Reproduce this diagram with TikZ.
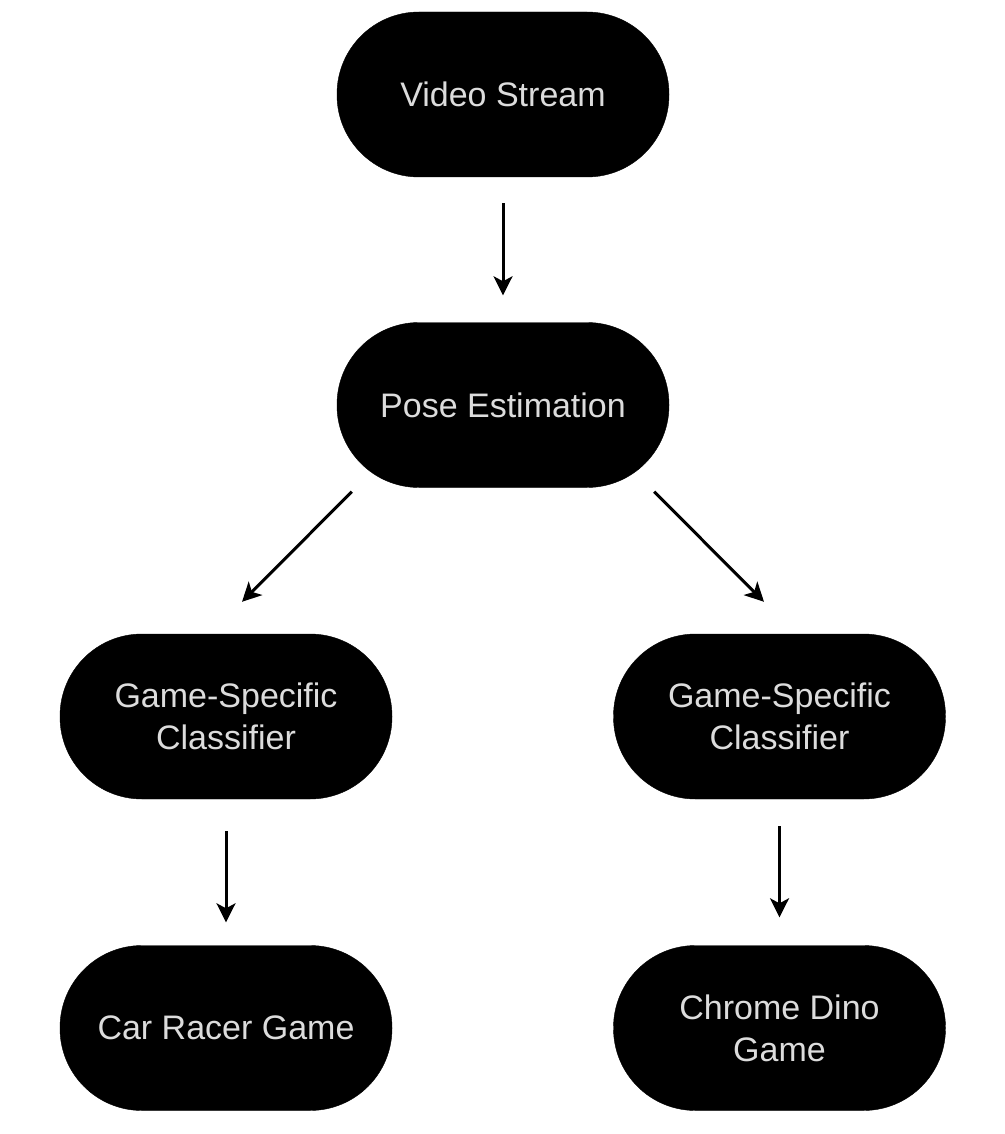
\documentclass[tikz,border=0pt]{standalone}
\usepackage{fontspec}
\setmainfont{Liberation Sans}
\usetikzlibrary{arrows.meta}
\definecolor{pilltext}{HTML}{DCDCDC}
\tikzset{
    pill/.style={draw=black,fill=black,rectangle,rounded corners=82pt,minimum width=332pt,minimum height=165pt,
        text=pilltext,align=center,font=\fontsize{34}{42}\selectfont,inner sep=0pt},
    flow/.style={line width=3pt,-{Stealth[length=19pt,width=19pt,inset=5pt]}}
}
\begin{document}
\begin{tikzpicture}[x=1pt,y=-1pt]
                \useasboundingbox[fill=white] (0,0) rectangle (1004,1134);
                \node[pill] (video) at (503,94.5) {Video Stream};
                \node[pill] (pose) at (503,405) {Pose Estimation};
                \node[pill] (clsL) at (226,716.5) {Game-Specific\\Classifier};
                \node[pill] (clsR) at (779.5,716.5) {Game-Specific\\Classifier};
                \node[pill] (car) at (226,1028) {Car Racer Game};
                \node[pill] (dino) at (779.5,1028) {Chrome Dino\\Game};
                % arrows
                \draw[flow,shorten <=26pt,shorten >=27pt] (video.south) -- (pose.north);
                \draw[flow] ([xshift=15pt,yshift=-4pt]pose.south west) -- ([xshift=16pt,yshift=32pt]clsL.north);
                \draw[flow] ([xshift=-15pt,yshift=-4pt]pose.south east) -- ([xshift=-15.5pt,yshift=32pt]clsR.north);
                \draw[flow,shorten <=32pt,shorten >=23pt] (clsL.south) -- (car.north);
                \draw[flow,shorten <=27pt,shorten >=28pt] (clsR.south) -- (dino.north);
            \end{tikzpicture}
\end{document}
